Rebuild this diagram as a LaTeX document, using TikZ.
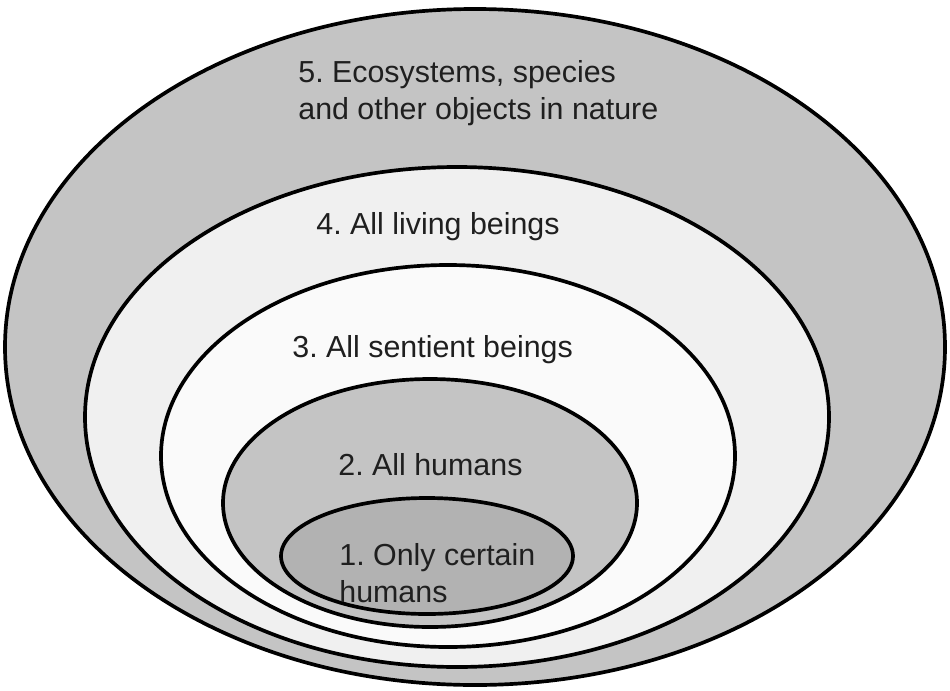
\documentclass[tikz,border=0pt]{standalone}
\usepackage{fontspec}
\setmainfont{Liberation Sans}
\frenchspacing
\definecolor{natgray}{gray}{0.77}
\definecolor{livgray}{gray}{0.94}
\definecolor{sentgray}{gray}{0.98}
\definecolor{humgray}{gray}{0.77}
\definecolor{fewgray}{gray}{0.70}
\begin{document}
\begin{tikzpicture}[x=0.02cm, y=-0.02cm,
  ring/.style={draw=black, line width=2.1pt},
  label/.style={anchor=base west, align=left, inner sep=0pt,
    font=\fontsize{17.3}{20.5}\selectfont, text=black!88}]
  \useasboundingbox (0,0) rectangle (950,690);

  % Rings, outermost first
  \filldraw[ring, fill=natgray]  (475,347) ellipse [x radius=470, y radius=338];
  \filldraw[ring, fill=livgray]  (457,417) ellipse [x radius=372, y radius=250];
  \filldraw[ring, fill=sentgray] (448,456) ellipse [x radius=287, y radius=191];
  \filldraw[ring, fill=humgray]  (430,503) ellipse [x radius=207, y radius=124];
  \filldraw[ring, fill=fewgray]  (427,556) ellipse [x radius=146, y radius=58];

  % Labels (base = last line)
  \node[label] (nature)   at (298,119) {5. Ecosystems, species\\and other objects in nature};
  \node[label] (living)   at (316,234) {4. All living beings};
  \node[label] (sentient) at (292,357) {3. All sentient beings};
  \node[label] (humans)   at (338,475) {2. All humans};
  \node[label] (certain)  at (339,602) {1. Only certain\\humans};
\end{tikzpicture}
\end{document}
